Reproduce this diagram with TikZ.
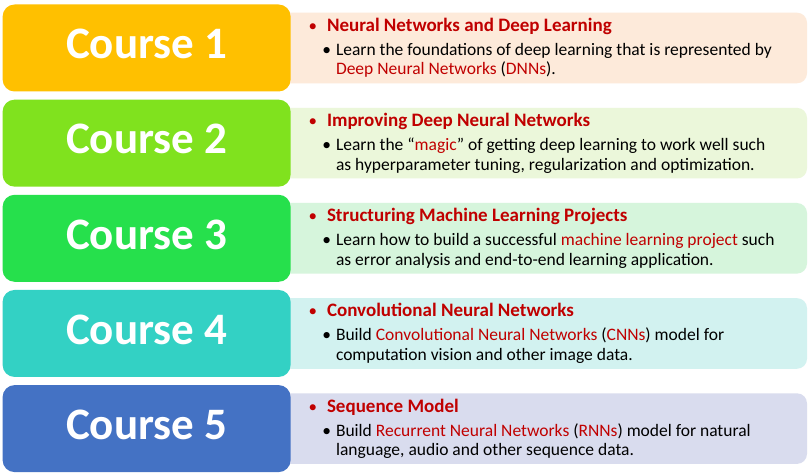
\documentclass[tikz,border=0pt]{standalone}
\usepackage{fontspec}
\setmainfont{Carlito}
\usetikzlibrary{positioning, calc}

\definecolor{gold}{HTML}{FFC000}
\definecolor{lime}{HTML}{80E21E}
\definecolor{grass}{HTML}{26E04C}
\definecolor{teal}{HTML}{33D1C4}
\definecolor{blue}{HTML}{4472C4}
\definecolor{goldbg}{HTML}{FDEADA}
\definecolor{limebg}{HTML}{EBF7DA}
\definecolor{grassbg}{HTML}{D6F5DC}
\definecolor{tealbg}{HTML}{D2F2F0}
\definecolor{bluebg}{HTML}{D9DCEE}
\definecolor{hl}{HTML}{C00000}

\begin{document}
\begin{tikzpicture}[
  x=1pt, y=-1pt,
  desc/.style   = {rounded corners=10pt, minimum width=537pt, minimum height=70.6pt, inner sep=0pt},
  course/.style = {rounded corners=12pt, minimum width=288pt, minimum height=87pt, inner sep=0pt,
                   text=white, text depth=8pt, font=\fontsize{45}{50}\bfseries\selectfont},
  head/.style   = {anchor=base west, inner sep=0pt, text=hl, font=\fontsize{19}{22}\bfseries\selectfont},
  body/.style   = {anchor=base west, inner sep=0pt, align=left, font=\fontsize{17.5}{19.5}\selectfont},
  hdot/.style   = {anchor=base, inner sep=0pt, text=hl, font=\fontsize{17}{20}\selectfont},
  bdot/.style   = {body, anchor=base},
]
  \fill[white] (0,0) rectangle (812,476);
  \useasboundingbox (0,0) rectangle (812,476);

  % description panels (behind the course boxes)
  \node[desc, fill=goldbg]                    (desc1) at (538.5,48) {};
  \node[desc, fill=limebg,  below=24.15pt of desc1] (desc2) {};
  \node[desc, fill=grassbg, below=24.15pt of desc2] (desc3) {};
  \node[desc, fill=tealbg,  below=24.15pt of desc3] (desc4) {};
  \node[desc, fill=bluebg,  below=24.15pt of desc4] (desc5) {};

  % course boxes
  \node[course, fill=gold,  left=-21pt of desc1] (course1) {Course 1};
  \node[course, fill=lime,  left=-21pt of desc2] (course2) {Course 2};
  \node[course, fill=grass, left=-21pt of desc3] (course3) {Course 3};
  \node[course, fill=teal,  left=-21pt of desc4] (course4) {Course 4};
  \node[course, fill=blue,  left=-21pt of desc5] (course5) {Course 5};

  % Course 1 (body base = baseline of its second line)
  \node[hdot] (hb1) at ($(desc1.north west)+(43,19)$) {\textbullet};
  \node[head] (h1)  at ($(desc1.north west)+(57,19)$) {Neural Networks and Deep Learning};
  \node[bdot] (bb1) at ($(desc1.north west)+(57,43)$) {\textbullet};
  \node[body] (b1)  at ($(desc1.north west)+(66,62.5)$)
    {Learn the foundations of deep learning that is represented by\\
     \textcolor{hl}{Deep Neural Networks} (\textcolor{hl}{DNNs}).};

  % Course 2
  \node[hdot] (hb2) at ($(desc2.north west)+(43,19)$) {\textbullet};
  \node[head] (h2)  at ($(desc2.north west)+(57,19)$) {Improving Deep Neural Networks};
  \node[bdot] (bb2) at ($(desc2.north west)+(57,43)$) {\textbullet};
  \node[body] (b2)  at ($(desc2.north west)+(66,62.5)$)
    {Learn the “\textcolor{hl}{magic}” of getting deep learning to work well such\\
     as hyperparameter tuning, regularization and optimization.};

  % Course 3
  \node[hdot] (hb3) at ($(desc3.north west)+(43,19)$) {\textbullet};
  \node[head] (h3)  at ($(desc3.north west)+(57,19)$) {Structuring Machine Learning Projects};
  \node[bdot] (bb3) at ($(desc3.north west)+(57,43)$) {\textbullet};
  \node[body] (b3)  at ($(desc3.north west)+(66,62.5)$)
    {Learn how to build a successful \textcolor{hl}{machine learning project} such\\
     as error analysis and end-to-end learning application.};

  % Course 4
  \node[hdot] (hb4) at ($(desc4.north west)+(43,19)$) {\textbullet};
  \node[head] (h4)  at ($(desc4.north west)+(57,19)$) {Convolutional Neural Networks};
  \node[bdot] (bb4) at ($(desc4.north west)+(57,43)$) {\textbullet};
  \node[body] (b4)  at ($(desc4.north west)+(66,62.5)$)
    {Build \textcolor{hl}{Convolutional Neural Networks} (\textcolor{hl}{CNNs}) model for\\
     computation vision and other image data.};

  % Course 5
  \node[hdot] (hb5) at ($(desc5.north west)+(43,19)$) {\textbullet};
  \node[head] (h5)  at ($(desc5.north west)+(57,19)$) {Sequence Model};
  \node[bdot] (bb5) at ($(desc5.north west)+(57,43)$) {\textbullet};
  \node[body] (b5)  at ($(desc5.north west)+(66,62.5)$)
    {Build \textcolor{hl}{Recurrent Neural Networks} (\textcolor{hl}{RNNs}) model for natural\\
     language, audio and other sequence data.};
\end{tikzpicture}
\end{document}
